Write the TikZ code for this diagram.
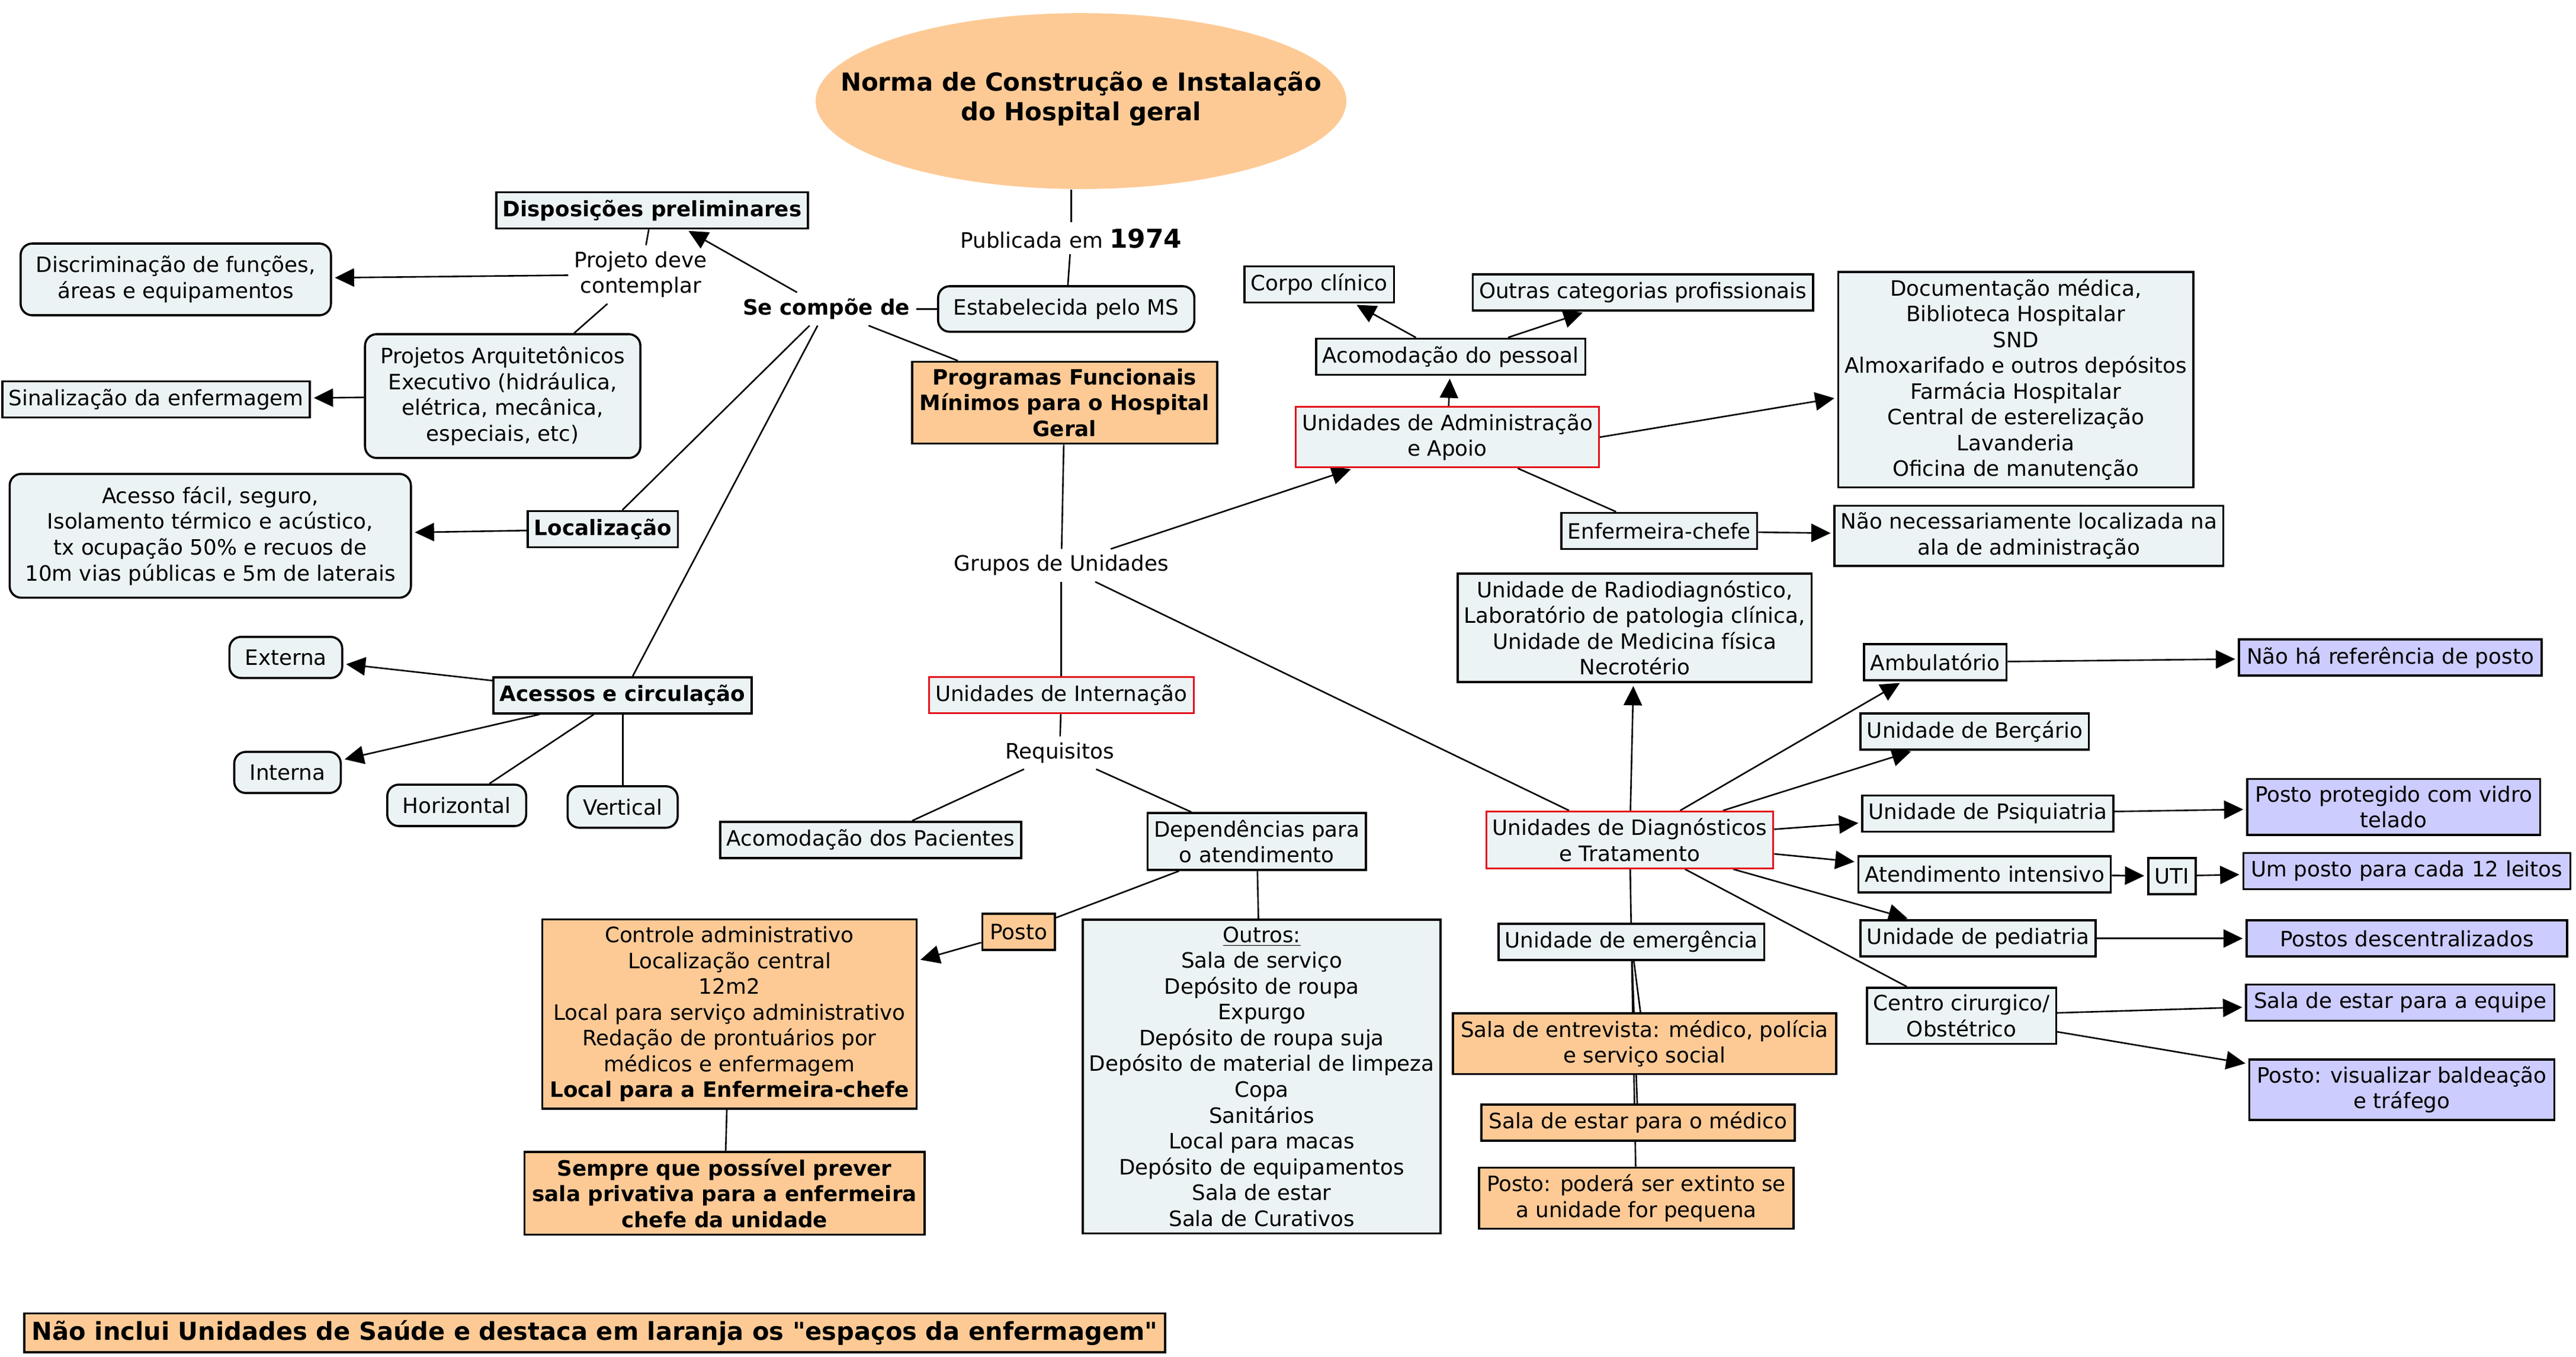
\documentclass[tikz,border=0pt]{standalone}
\usepackage{fontspec}
\setmainfont{DejaVu Sans}
\usetikzlibrary{arrows.meta,shapes.geometric,backgrounds,calc}
\definecolor{lightfill}{HTML}{ECF3F5}
\definecolor{orangec}{HTML}{FDCA96}
\definecolor{violetc}{HTML}{CCCCFF}
\definecolor{redc}{HTML}{E3141B}
\newcommand{\nf}{\fontsize{11}{13.4}\selectfont}
\newcommand{\bnf}{\fontsize{11}{13.4}\selectfont\bfseries}
\begin{document}
\begin{tikzpicture}[x=0.03cm,y=-0.03cm,
  boxbase/.style={draw=black,line width=1.1pt,font=\nf,align=center,inner xsep=3.3pt,inner ysep=3.6pt},
  sq/.style={boxbase,fill=lightfill,minimum height=0.66cm},
  rnd/.style={boxbase,fill=lightfill,rounded corners=6pt,inner xsep=8pt,inner ysep=6.5pt,minimum height=0.75cm},
  redb/.style={sq,draw=redc,line width=0.9pt},
  org/.style={boxbase,fill=orangec,inner xsep=4pt,minimum height=0.66cm},
  vio/.style={boxbase,fill=violetc,inner xsep=4pt,minimum height=0.66cm},
  lbl/.style={font=\nf,align=center,inner sep=3pt},
  titleshape/.style={ellipse,fill=orangec,draw=none,inner sep=0pt,minimum width=9.69cm,minimum height=3.21cm},
  titletext/.style={align=center,inner sep=0pt,font=\fontsize{12.9}{15.3}\selectfont\bfseries},
  conn/.style={line width=0.8pt},
  arr/.style={conn,-{Triangle[length=10pt,width=9.5pt]},shorten >=1.5pt}
]
\useasboundingbox (0,0) rectangle (1568,825.6);

% ---- nodes ----
\node[titleshape] (title) at (658,61.5) {};
\node[titletext] (titletxt) at (658,60) {Norma de Construção e Instalação\\do Hospital geral};
\node[lbl] (pub) at (652,145) {Publicada em {\fontsize{13.5}{15}\selectfont\bfseries 1974}};
\node[rnd] (estab) at (649,188) {Estabelecida pelo MS};
\node[lbl,font=\bnf] (comp) at (503,188) {Se compõe de};
\node[sq,font=\bnf] (disp) at (397,128) {Disposições preliminares};
\node[lbl] (proj) at (390,167) {Projeto deve\\contemplar};
\node[rnd] (discr) at (107,170) {Discriminação de funções,\\áreas e equipamentos};
\node[rnd] (parq) at (306,241) {Projetos Arquitetônicos\\Executivo (hidráulica,\\elétrica, mecânica,\\especiais, etc)};
\node[sq] (sinal) at (95,243) {Sinalização da enfermagem};
\node[sq,font=\bnf] (loc) at (367,322) {Localização};
\node[rnd] (acesso) at (128,326) {Acesso fácil, seguro,\\Isolamento térmico e acústico,\\tx ocupação 50\% e recuos de\\10m vias públicas e 5m de laterais};
\node[sq,font=\bnf] (acirc) at (379,423) {Acessos e circulação};
\node[rnd] (ext) at (174,400) {Externa};
\node[rnd] (int) at (175,470) {Interna};
\node[rnd] (hor) at (278,490) {Horizontal};
\node[rnd] (ver) at (379,491) {Vertical};
\node[org,font=\bnf] (prog) at (648,245) {Programas Funcionais\\Mínimos para o Hospital\\Geral};
\node[lbl] (grupos) at (646,344) {Grupos de Unidades};
\node[redb] (ua) at (881,266) {Unidades de Administração\\e Apoio};
\node[sq] (acpes) at (883,217) {Acomodação do pessoal};
\node[sq] (corpo) at (803,173) {Corpo clínico};
\node[sq] (outras) at (1000,178) {Outras categorias profissionais};
\node[sq] (doc) at (1227,231) {Documentação médica,\\Biblioteca Hospitalar\\SND\\Almoxarifado e outros depósitos\\Farmácia Hospitalar\\Central de esterelização\\Lavanderia\\Oficina de manutenção};
\node[sq] (enf) at (1010,323) {Enfermeira-chefe};
\node[sq] (naonec) at (1235,326) {Não necessariamente localizada na\\ala de administração};
\node[redb] (ui) at (646,423) {Unidades de Internação};
\node[lbl] (req) at (645,458) {Requisitos};
\node[sq] (acpac) at (530,511) {Acomodação dos Pacientes};
\node[sq] (dep) at (765,512) {Dependências para\\o atendimento};
\node[org] (posto) at (620,567) {Posto};
\node[org] (ctrl) at (444,617) {Controle administrativo\\Localização central\\12m2\\Local para serviço administrativo\\Redação de prontuários por\\médicos e enfermagem\\\textbf{Local para a Enfermeira-chefe}};
\node[org,font=\bnf] (sempre) at (441,726) {Sempre que possível prever\\sala privativa para a enfermeira\\chefe da unidade};
\node[sq] (outros) at (768,655) {\underline{Outros:}\\Sala de serviço\\Depósito de roupa\\Expurgo\\Depósito de roupa suja\\Depósito de material de limpeza\\Copa\\Sanitários\\Local para macas\\Depósito de equipamentos\\Sala de estar\\Sala de Curativos};
\node[redb] (udt) at (992,511) {Unidades de Diagnósticos\\e Tratamento};
\node[sq] (radio) at (995,382) {Unidade de Radiodiagnóstico,\\Laboratório de patologia clínica,\\Unidade de Medicina física\\Necrotério};
\node[sq] (amb) at (1178,403) {Ambulatório};
\node[sq] (berc) at (1202,445) {Unidade de Berçário};
\node[sq] (psiq) at (1210,495) {Unidade de Psiquiatria};
\node[sq] (ati) at (1208,532) {Atendimento intensivo};
\node[sq] (uti) at (1322,533) {UTI};
\node[vio] (umposto) at (1465,530) {Um posto para cada 12 leitos};
\node[sq] (ped) at (1204,571) {Unidade de pediatria};
\node[vio,minimum width=5.85cm] (postdesc) at (1465,571) {Postos descentralizados};
\node[sq] (centro) at (1194,618) {Centro cirurgico/\\Obstétrico};
\node[vio] (salaeq) at (1461,610) {Sala de estar para a equipe};
\node[vio] (visual) at (1462,663) {Posto: visualizar baldeação\\e tráfego};
\node[vio] (vidro) at (1457,491) {Posto protegido com vidro\\telado};
\node[vio] (naoha) at (1455,400) {Não há referência de posto};
\node[sq] (emerg) at (993,573) {Unidade de emergência};
\node[org] (entrev) at (1001,635) {Sala de entrevista: médico, polícia\\e serviço social};
\node[org] (estar) at (997,683) {Sala de estar para o médico};
\node[org] (postext) at (996,729) {Posto: poderá ser extinto se\\a unidade for pequena};
\node[org,font=\fontsize{12.8}{15}\selectfont\bfseries] (nota) at (362,811) {Não inclui Unidades de Saúde e destaca em laranja os \textquotedbl espaços da enfermagem\textquotedbl};

% ---- connectors ----
\begin{scope}[on background layer]
\fill[white] (0,0) rectangle (1568,825.6);
\draw[conn] (title.south -| pub.north) -- (pub.north);
\draw[conn] (pub) -- (estab);
\draw[conn] (comp) -- (estab);
\draw[arr] (comp) -- (disp);
\draw[conn] (comp) -- (prog);
\draw[conn] (comp) -- (loc);
\draw[conn] (comp) -- (acirc);
\draw[conn] (disp) -- (proj);
\draw[arr] (proj) -- (discr);
\draw[conn] (proj) -- (parq);
\draw[arr] (parq) -- (sinal);
\draw[arr] (loc) -- (acesso);
\draw[arr] (acirc) -- (ext);
\draw[arr] (acirc) -- (int);
\draw[conn] (acirc) -- (hor);
\draw[conn] (acirc) -- (ver);
\draw[conn] (prog) -- (grupos);
\draw[arr] (grupos) -- (ua);
\draw[conn] (grupos) -- (udt);
\draw[conn] (grupos) -- (ui);
\draw[arr] (ua) -- (acpes);
\draw[arr] (acpes) -- (corpo);
\draw[arr] (acpes) -- (outras);
\draw[arr] (ua.east) -- ($(doc.west)+(0,11)$);
\draw[conn] (ua) -- (enf);
\draw[arr] (enf) -- (naonec);
\draw[conn] (ui) -- (req);
\draw[conn] (req) -- (acpac);
\draw[conn] (req) -- (dep);
\draw[conn] (dep) -- (posto);
\draw[arr] (posto) -- (ctrl);
\draw[conn] (dep) -- (outros);
\draw[conn] (ctrl) -- (sempre);
\draw[arr] (udt) -- (radio);
\draw[arr] (udt) -- (amb);
\draw[arr] (udt) -- (berc);
\draw[arr] (udt) -- (psiq);
\draw[arr] (udt) -- (ati);
\draw[arr] (udt) -- (ped);
\draw[conn] (udt) -- (centro);
\draw[conn] (udt) -- (emerg);
\draw[arr] (amb) -- (naoha);
\draw[arr] (psiq) -- (vidro);
\draw[arr] (ati) -- (uti);
\draw[arr] (uti) -- (umposto);
\draw[arr] (ped) -- (postdesc);
\draw[arr] (centro) -- (salaeq);
\draw[arr] (centro) -- (visual);
\draw[conn] (emerg) -- (entrev);
\draw[conn] (emerg) -- (estar);
\draw[conn] (emerg) -- (postext);
\end{scope}
\end{tikzpicture}
\end{document}
